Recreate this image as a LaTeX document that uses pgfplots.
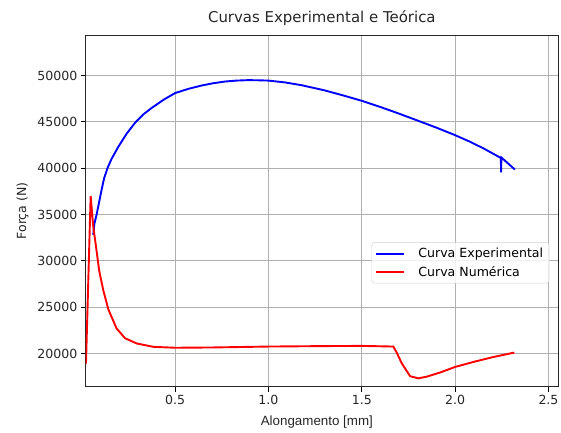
\documentclass[border=0pt]{standalone}
\usepackage{fontspec}
\setmainfont{DejaVu Sans}
\newfontfamily\lib{Liberation Sans}
\usepackage{pgfplots}
\pgfplotsset{compat=1.18}
\begin{document}
\begin{tikzpicture}
\useasboundingbox (0,0) rectangle (561bp,433bp);
\begin{axis}[
  at={(85.7bp,46.3bp)}, anchor=south west,
  scale only axis, width=472.3bp, height=351.7bp,
  xmin=0.0215, xmax=2.551, ymin=16417, ymax=54370,
  scaled ticks=false,
  xtick={0.5,1.0,1.5,2.0,2.5}, xticklabels={0.5,1.0,1.5,2.0,2.5},
  ytick={20000,25000,30000,35000,40000,45000,50000},
  yticklabels={20000,25000,30000,35000,40000,45000,50000},
  tick pos=left, tick align=outside, major tick length=4.9bp,
  tick style={black, line width=0.8bp},
  axis line style={line width=0.8bp, black!85},
  grid=major, major grid style={draw=black!31, line width=1bp},
  ticklabel style={font=\fontsize{12.6}{15}\selectfont, text=black!85},
  title={Curvas Experimental e Teórica},
  title style={font=\fontsize{15}{18}\selectfont, text=black!85, yshift=0bp},
  xlabel={Alongamento [mm]},
  xlabel style={font=\lib\fontsize{13.4}{16}\selectfont, text=black!85, xshift=-5bp, yshift=-4bp},
  ylabel={Força (N)},
  ylabel style={font=\fontsize{12.6}{15}\selectfont, text=black!85, yshift=2bp},
  legend cell align=left,
  legend style={at={(0.9816,0.294)}, anchor=south east, draw=black!18, rounded corners=3bp,
    fill=white, fill opacity=0.8, text opacity=1, font=\fontsize{12.6}{15}\selectfont,
    inner xsep=4bp, inner ysep=3.5bp, row sep=3bp},
  legend image code/.code={\draw[#1] (0bp,0bp) -- (28bp,0bp); \path (39bp,0bp);},
]
\addplot[blue, line width=1.9bp] coordinates {
(0.062,32800) (0.068,34000) (0.080,35000) (0.095,36500) (0.107,37700) (0.12,38900)
(0.138,40000) (0.16,41000) (0.196,42300) (0.24,43700) (0.286,44900) (0.33,45800)
(0.375,46500) (0.44,47400) (0.5,48100) (0.57,48550) (0.643,48920) (0.70,49150)
(0.768,49350) (0.83,49450) (0.893,49500) (0.95,49480) (1.0,49450) (1.09,49250)
(1.178,48950) (1.3,48400) (1.4,47850) (1.5,47270) (1.6,46600) (1.7,45880)
(1.8,45130) (1.9,44370) (2.0,43560) (2.08,42850) (2.155,42100) (2.2,41600)
(2.245,41100) (2.246,39550) (2.248,41150) (2.32,39850)
};
\addlegendentry{Curva Experimental}
\addplot[red, line width=1.9bp] coordinates {
(0.023,18900) (0.048,37000) (0.062,33700) (0.077,31500) (0.094,28900) (0.116,26800)
(0.143,24750) (0.187,22700) (0.232,21650) (0.295,21080) (0.384,20720) (0.5,20620)
(0.7,20650) (1.0,20750) (1.3,20800) (1.5,20820) (1.669,20750) (1.687,20100)
(1.714,18950) (1.759,17550) (1.803,17320) (1.848,17500) (1.92,17950) (2.0,18550)
(2.1,19100) (2.2,19600) (2.317,20100)
};
\addlegendentry{Curva Numérica}
\end{axis}
\end{tikzpicture}
\end{document}
